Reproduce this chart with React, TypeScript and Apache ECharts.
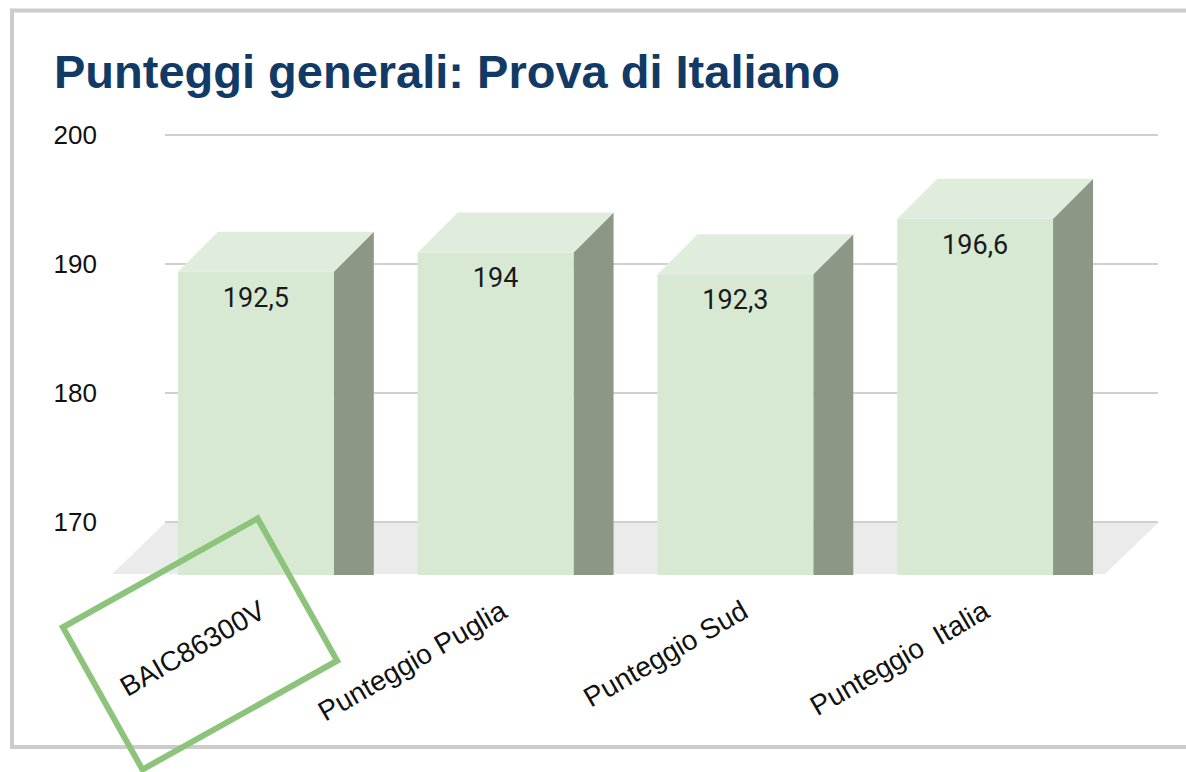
import React, { useEffect, useRef } from 'react';
import * as echarts from 'echarts';

const titleText = 'Punteggi generali: Prova di Italiano';
const categories = ['BAIC86300V', 'Punteggio Puglia', 'Punteggio Sud', 'Punteggio  Italia'];
const values = [192.5, 194, 192.3, 196.6];
const yMin = 170;
const yMax = 200;
const yStep = 10;

const ARIAL = '"Liberation Sans", Arial, sans-serif';
const fmt = (v: number) => String(v).replace('.', ',');

export default function App() {
  const ref = useRef<HTMLDivElement>(null);
  useEffect(() => {
    const chart = echarts.init(ref.current!, null, { renderer: 'svg' });
    const DX = 40;
    const DY = 40;
    const FLOOR = 53;
    const option: any = {
      animation: false,
      backgroundColor: '#ffffff',
      title: {
        text: titleText,
        left: 49,
        top: 43,
        textStyle: { fontSize: 47, fontWeight: 'bold', color: '#123a66', fontFamily: ARIAL },
      },
      grid: [
        { left: 165, right: 28, top: 135, bottom: 250 },
        { left: 136, right: 91, top: 135, bottom: 250 },
        { left: 142, right: 79, top: 135, bottom: 250 },
      ],
      xAxis: [
        { gridIndex: 0, type: 'category', data: categories, show: false },
        { gridIndex: 1, type: 'category', data: categories, show: false },
        {
          gridIndex: 2,
          type: 'category',
          data: categories,
          axisLine: { show: false },
          axisTick: { show: false },
          axisLabel: { interval: 0, rotate: 30, margin: 86, fontSize: 28, color: '#111', fontFamily: ARIAL },
        },
      ],
      yAxis: [
        {
          gridIndex: 0,
          type: 'value',
          min: yMin,
          max: yMax,
          interval: yStep,
          axisLine: { show: false },
          axisTick: { show: false },
          axisLabel: { margin: 68, fontSize: 26, color: '#111', fontFamily: ARIAL },
          splitLine: { lineStyle: { color: '#d0d0d0', width: 2 } },
        },
        { gridIndex: 1, type: 'value', min: yMin, max: yMax, interval: yStep, show: false },
        { gridIndex: 2, type: 'value', min: yMin, max: yMax, interval: yStep, show: false },
      ],
      series: [
        {
          type: 'custom',
          name: 'floor',
          xAxisIndex: 0,
          yAxisIndex: 0,
          silent: true,
          z: 1,
          data: [[0, yMin]],
          renderItem: (params: any) => {
            const cs = params.coordSys;
            const b = cs.y + cs.height;
            return {
              type: 'polygon',
              shape: {
                points: [
                  [cs.x, b + 1],
                  [cs.x + cs.width, b + 1],
                  [cs.x + cs.width - FLOOR, b + FLOOR - 1],
                  [cs.x - FLOOR, b + FLOOR - 1],
                ],
              },
              style: { fill: '#ebebeb' },
            };
          },
        },
        {
          type: 'custom',
          name: 'Punteggi',
          xAxisIndex: 1,
          yAxisIndex: 1,
          z: 3,
          data: values.map((v, i) => [i, v]),
          renderItem: (params: any, api: any) => {
            const idx = api.value(0);
            const v = api.value(1);
            const back = api.coord([idx, v]);
            const base = api.coord([idx, yMin]);
            const w = api.size([1, 0])[0] * 0.65;
            const cx = back[0];
            const x0 = cx - w / 2;
            const x1 = cx + w / 2;
            const topB = back[1];
            const topF = topB + DY;
            const bottom = base[1] + FLOOR;
            return {
              type: 'group',
              children: [
                {
                  type: 'polygon',
                  shape: { points: [[x1, topF], [x1 + DX, topB], [x1 + DX, bottom], [x1, bottom]] },
                  style: { fill: '#8c9786' },
                },
                {
                  type: 'rect',
                  shape: { x: x0, y: topF, width: w, height: bottom - topF },
                  style: { fill: '#d8e9d3' },
                },
                {
                  type: 'polygon',
                  shape: { points: [[x0, topF], [x1, topF], [x1 + DX, topB], [x0 + DX, topB]] },
                  style: { fill: '#e1eddc' },
                },
                {
                  type: 'text',
                  style: {
                    text: fmt(v),
                    x: cx,
                    y: topF + 26,
                    align: 'center',
                    verticalAlign: 'middle',
                    fontSize: 27,
                    fontFamily: 'Roboto, sans-serif',
                    fill: '#1a1a1a',
                  },
                },
              ],
            };
          },
        },
      ],
      graphic: [
        {
          type: 'rect',
          z: -10,
          silent: true,
          shape: { x: 12, y: 10.5, width: 1220, height: 736.5 },
          style: { fill: 'none', stroke: '#cccccc', lineWidth: 4 },
        },
        {
          type: 'rect',
          z: 100,
          silent: true,
          x: 200,
          y: 644,
          rotation: (29.2 * Math.PI) / 180,
          shape: { x: -111.5, y: -81.5, width: 223, height: 163 },
          style: { fill: 'none', stroke: '#8dc47b', lineWidth: 6 },
        },
      ],
    };
    chart.setOption(option);
    return () => chart.dispose();
  }, []);
  return (
    <div
      ref={ref}
      style={{ position: 'absolute', left: 0, top: 0, width: 1186, height: 772 }}
    />
  );
}
